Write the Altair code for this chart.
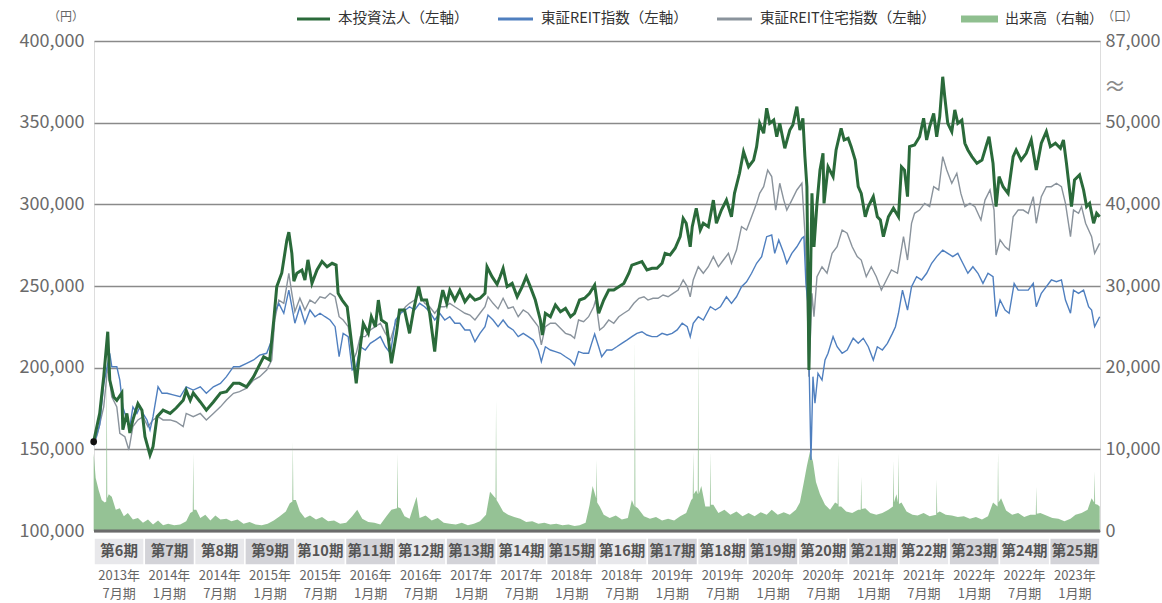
import altair as alt
import pandas as pd

# ---------------- data ----------------
# time as decimal year
green_t = [2013.08,2013.14,2013.18,2013.22,2013.24,2013.28,2013.31,2013.36,2013.37,2013.41,2013.44,2013.47,2013.52,2013.56,2013.59,2013.64,2013.67,2013.71,2013.77,2013.84,2013.90,2013.97,2014.00,2014.04,2014.07,2014.14,2014.20,2014.27,2014.34,2014.40,2014.47,2014.53,2014.60,2014.67,2014.72,2014.77,2014.83,2014.87,2014.90,2014.95,2015.00,2015.02,2015.05,2015.07,2015.10,2015.15,2015.18,2015.21,2015.25,2015.30,2015.35,2015.40,2015.45,2015.49,2015.51,2015.55,2015.60,2015.64,2015.69,2015.73,2015.76,2015.81,2015.84,2015.88,2015.91,2015.94,2015.99,2016.04,2016.09,2016.12,2016.17,2016.22,2016.26,2016.31,2016.34,2016.39,2016.42,2016.47,2016.51,2016.55,2016.59,2016.62,2016.67,2016.72,2016.77,2016.82,2016.87,2016.92,2016.97,2016.99,2017.04,2017.09,2017.12,2017.15,2017.19,2017.24,2017.29,2017.34,2017.38,2017.42,2017.47,2017.52,2017.54,2017.57,2017.62,2017.67,2017.72,2017.77,2017.82,2017.86,2017.91,2017.96,2018.01,2018.06,2018.10,2018.15,2018.20,2018.25,2018.30,2018.35,2018.40,2018.43,2018.48,2018.53,2018.58,2018.63,2018.68,2018.73,2018.76,2018.81,2018.86,2018.91,2018.94,2018.97,2019.01,2019.03,2019.07,2019.11,2019.14,2019.19,2019.24,2019.27,2019.32,2019.37,2019.42,2019.45,2019.50,2019.54,2019.59,2019.64,2019.67,2019.70,2019.74,2019.77,2019.80,2019.84,2019.87,2019.90,2019.95,2020.00,2020.03,2020.07,2020.10,2020.13,2020.15,2020.17,2020.19,2020.22,2020.24,2020.27,2020.30,2020.33,2020.34,2020.38,2020.43,2020.46,2020.51,2020.54,2020.58,2020.61,2020.65,2020.68,2020.71,2020.75,2020.78,2020.83,2020.87,2020.90,2020.93,2020.98,2021.03,2021.08,2021.11,2021.14,2021.17,2021.19,2021.24,2021.29,2021.33,2021.36,2021.39,2021.43,2021.46,2021.49,2021.52,2021.54,2021.57,2021.61,2021.64,2021.67,2021.71,2021.74,2021.77,2021.81,2021.86,2021.91,2021.96,2021.98,2022.02,2022.05,2022.08,2022.12,2022.17,2022.22,2022.25,2022.30,2022.35,2022.40,2022.45,2022.50,2022.55,2022.59,2022.64,2022.69,2022.72,2022.75,2022.80,2022.83,2022.88,2022.92,2022.95,2022.98,2023.02,2023.05,2023.08]
green_v = [154700,172000,194500,222000,192400,182000,180000,184500,162000,172000,160000,168000,178000,174000,157700,146500,151600,170000,174000,172000,175300,180000,186000,180000,184500,179000,174000,179000,184500,185300,190400,190400,188300,194500,200600,206700,204700,229000,249600,258000,278000,283000,270000,253000,257800,259800,253700,266000,251600,259800,265000,261800,263900,262800,245500,241400,237300,217000,190400,212800,227000,221000,231200,225000,241400,229200,227000,202700,221000,235300,235300,221000,235300,249600,241400,241400,233300,209800,235300,247500,239400,247500,241400,247500,240400,244500,241400,242500,245500,261800,255700,251000,255700,260800,249600,251600,243400,249600,255700,249600,241400,229200,220000,233300,231200,238400,234300,236300,231200,233300,241400,242500,245500,250600,233300,241400,247500,247500,249600,251600,257800,262800,263900,264900,259800,260800,260800,263900,270000,269000,273100,280200,291400,288400,274000,286300,297600,284300,288400,286300,302600,288400,296500,302600,292400,306700,319000,332200,323000,327100,335300,349600,343500,358800,349600,351600,341400,349600,334300,345500,348600,359800,345500,352700,329200,310800,198600,306700,274000,300600,321000,331200,300600,323000,317000,333300,346500,339400,340400,335300,327100,310800,306700,292400,298600,304700,292400,290400,280200,292400,297600,292400,323000,321000,304700,335300,336300,341400,352700,339400,347500,355700,341400,353700,378100,365900,349600,344500,357800,349600,351600,337400,333300,329200,325100,327100,337400,341400,325100,298600,317000,310800,306700,329200,333300,327100,331200,339400,321000,337400,344500,335300,337400,334300,339400,325100,298600,314900,318000,308800,298600,300600,288400,294500,292400]

reit_t = [2013.08,2013.14,2013.18,2013.24,2013.26,2013.31,2013.34,2013.37,2013.41,2013.44,2013.47,2013.51,2013.54,2013.57,2013.61,2013.64,2013.67,2013.72,2013.76,2013.81,2013.87,2013.94,2014.00,2014.07,2014.14,2014.20,2014.27,2014.34,2014.40,2014.47,2014.53,2014.60,2014.67,2014.73,2014.80,2014.85,2014.88,2014.92,2014.97,2015.02,2015.05,2015.08,2015.13,2015.18,2015.23,2015.28,2015.33,2015.38,2015.43,2015.48,2015.52,2015.56,2015.61,2015.65,2015.69,2015.73,2015.78,2015.83,2015.88,2015.93,2015.98,2016.03,2016.08,2016.13,2016.18,2016.22,2016.27,2016.32,2016.37,2016.42,2016.47,2016.52,2016.57,2016.62,2016.67,2016.72,2016.77,2016.82,2016.87,2016.92,2016.97,2017.00,2017.05,2017.10,2017.15,2017.20,2017.25,2017.30,2017.35,2017.40,2017.45,2017.50,2017.53,2017.57,2017.62,2017.67,2017.72,2017.77,2017.82,2017.86,2017.90,2017.95,2018.00,2018.03,2018.06,2018.10,2018.13,2018.18,2018.23,2018.28,2018.33,2018.38,2018.43,2018.48,2018.53,2018.58,2018.63,2018.68,2018.73,2018.78,2018.83,2018.88,2018.93,2018.98,2019.01,2019.04,2019.09,2019.14,2019.21,2019.26,2019.31,2019.37,2019.42,2019.47,2019.52,2019.57,2019.62,2019.67,2019.72,2019.77,2019.82,2019.85,2019.89,2019.94,2019.97,2020.02,2020.07,2020.12,2020.14,2020.16,2020.18,2020.21,2020.23,2020.25,2020.28,2020.32,2020.35,2020.38,2020.43,2020.47,2020.52,2020.57,2020.63,2020.68,2020.73,2020.78,2020.83,2020.87,2020.92,2020.97,2021.02,2021.05,2021.08,2021.12,2021.17,2021.21,2021.26,2021.31,2021.36,2021.41,2021.46,2021.52,2021.57,2021.62,2021.67,2021.72,2021.77,2021.82,2021.87,2021.92,2021.97,2022.02,2022.05,2022.09,2022.14,2022.18,2022.23,2022.27,2022.32,2022.37,2022.42,2022.45,2022.50,2022.55,2022.60,2022.65,2022.70,2022.74,2022.79,2022.82,2022.87,2022.92,2022.97,2023.00,2023.03,2023.08]
reit_v = [152600,165000,190000,208800,200600,200600,192400,176000,168000,163900,176000,172000,176000,172000,168000,161800,170000,188300,184300,184300,183300,182200,188300,186300,188300,184300,188300,190400,194500,200600,200600,202700,204700,207700,208800,216900,233300,239400,233300,247500,237300,227200,237300,227200,235300,231200,233300,231200,229200,225100,206700,221000,219000,198600,200600,212800,210800,214900,216900,219000,212800,208800,229200,233300,235300,237300,235300,239400,237300,234300,229200,233300,229200,231200,227200,227200,223100,223100,215900,221000,225100,232200,229200,225100,229200,225100,223100,219000,221000,219000,216900,210800,203700,212800,210800,209800,208800,206700,204700,201600,209800,208800,208800,214900,220600,212800,206700,210800,210800,212800,214900,216900,219000,221000,222000,220000,219000,219000,221000,220000,221000,223100,227200,225100,219000,227200,231200,229200,237300,235300,237300,243400,239400,243400,249600,252600,257800,263900,268000,280200,281200,270000,278200,270000,263900,270000,274000,279200,280200,251600,239400,143500,194500,178200,196500,192400,204700,208800,219000,212800,208800,210800,218000,214900,218000,212800,204700,212800,210800,214900,221000,225100,233300,247500,235300,249600,255700,253700,257800,263900,268000,272000,270000,268000,270000,263900,257800,261800,257800,251600,257800,255700,231200,241400,235300,233300,251600,247500,247500,247500,251600,237300,245500,249600,253700,252600,253700,241400,233300,247500,245500,247500,237300,235300,225100,231200]

resi_t = [2013.08,2013.12,2013.18,2013.22,2013.26,2013.31,2013.34,2013.39,2013.43,2013.47,2013.52,2013.57,2013.62,2013.67,2013.72,2013.77,2013.84,2013.90,2013.97,2014.00,2014.07,2014.14,2014.20,2014.27,2014.34,2014.40,2014.47,2014.53,2014.60,2014.67,2014.73,2014.80,2014.85,2014.88,2014.92,2014.97,2015.02,2015.05,2015.08,2015.13,2015.18,2015.23,2015.28,2015.33,2015.38,2015.43,2015.48,2015.52,2015.56,2015.61,2015.66,2015.69,2015.73,2015.78,2015.83,2015.88,2015.93,2015.98,2016.03,2016.08,2016.13,2016.18,2016.22,2016.27,2016.32,2016.37,2016.42,2016.47,2016.52,2016.57,2016.62,2016.67,2016.72,2016.77,2016.82,2016.87,2016.92,2016.97,2017.00,2017.05,2017.10,2017.15,2017.20,2017.25,2017.30,2017.35,2017.40,2017.45,2017.50,2017.53,2017.57,2017.62,2017.67,2017.72,2017.77,2017.82,2017.86,2017.90,2017.95,2018.00,2018.05,2018.07,2018.11,2018.15,2018.20,2018.25,2018.30,2018.35,2018.40,2018.45,2018.50,2018.55,2018.59,2018.64,2018.69,2018.74,2018.79,2018.84,2018.89,2018.94,2018.98,2019.01,2019.04,2019.09,2019.14,2019.19,2019.24,2019.29,2019.34,2019.39,2019.42,2019.47,2019.52,2019.57,2019.62,2019.67,2019.70,2019.74,2019.78,2019.82,2019.86,2019.90,2019.94,2019.97,2020.02,2020.07,2020.12,2020.15,2020.17,2020.19,2020.22,2020.24,2020.27,2020.32,2020.37,2020.42,2020.47,2020.52,2020.57,2020.62,2020.67,2020.71,2020.76,2020.81,2020.86,2020.91,2020.96,2021.01,2021.07,2021.13,2021.17,2021.21,2021.24,2021.29,2021.34,2021.39,2021.43,2021.48,2021.52,2021.56,2021.61,2021.66,2021.70,2021.74,2021.79,2021.84,2021.90,2021.94,2021.99,2022.03,2022.05,2022.09,2022.14,2022.18,2022.22,2022.27,2022.32,2022.37,2022.42,2022.45,2022.50,2022.55,2022.60,2022.65,2022.70,2022.74,2022.79,2022.82,2022.87,2022.90,2022.94,2022.97,2023.00,2023.03,2023.08]
resi_v = [152000,160000,176000,200600,182200,176000,159800,157700,149600,163900,168000,170000,163900,168000,170000,168000,168000,166900,163900,172000,170000,172000,168000,172000,176000,180200,184300,185300,187400,192400,194500,198600,204700,229200,241400,239400,257800,245500,234300,242500,235300,241400,239400,243400,242500,245500,243400,231200,229200,225100,204700,208800,219000,219000,223100,225100,227200,221000,216900,227200,233300,237300,239400,241400,245500,239400,237300,233300,237300,237300,239400,237300,235300,233300,232200,229200,233300,237300,243400,239400,236000,242500,236300,237300,231200,235300,233300,229200,225100,213900,225100,227200,227200,224100,221000,220000,218000,229200,228100,231200,237300,241400,223100,225100,229200,227200,231200,233300,235300,239400,242500,243400,241400,242500,242500,244500,243400,245500,247500,253700,249600,243400,253700,261800,257800,261800,268000,261800,265900,270000,263900,272000,286300,284300,292400,300600,306700,310800,321000,317000,296500,312900,302600,296500,302600,308800,312900,282300,249600,194500,245500,231200,255700,261800,257800,270000,274000,284300,282300,274000,268000,265900,255700,261800,255700,247500,253700,259800,257800,280200,265900,288400,294500,296500,300600,298600,310800,308800,329200,321000,312900,319000,306700,298600,300600,298600,290400,302600,308800,296500,269000,278200,274000,272000,292400,296500,296500,294500,304700,288400,304700,310800,310800,312900,310800,300600,280200,296500,294500,298600,288400,284300,280200,270000,276100]

# trading volume (units), (decimal year, volume)
vol_points = [
    (2013.08,9500),(2013.10,6500),(2013.13,5000),(2013.16,3800),(2013.19,3500),(2013.205,3600),(2013.21,22000),(2013.215,4000),
    (2013.23,4500),(2013.26,4200),(2013.30,2600),(2013.34,2800),(2013.38,1800),(2013.42,2200),(2013.47,1400),(2013.52,1600),
    (2013.57,1000),(2013.62,1400),(2013.67,800),(2013.72,1300),(2013.77,700),(2013.82,900),(2013.88,700),(2013.94,800),
    (2014.00,1200),(2014.04,2200),(2014.065,2400),(2014.07,9500),(2014.075,2600),(2014.10,2600),(2014.14,1600),(2014.19,2000),
    (2014.24,1300),(2014.29,1900),(2014.34,1400),(2014.40,1500),(2014.45,1200),(2014.51,1400),(2014.57,900),(2014.63,1100),
    (2014.69,800),(2014.75,700),(2014.81,900),(2014.87,1300),(2014.93,1800),(2014.99,2400),(2015.03,3400),(2015.055,3600),
    (2015.06,10900),(2015.065,3800),(2015.09,3800),(2015.13,2400),(2015.18,1600),(2015.23,1900),(2015.29,1400),(2015.35,1700),
    (2015.41,1200),(2015.47,1300),(2015.53,900),(2015.59,1000),(2015.65,1800),(2015.70,2600),(2015.75,1500),(2015.81,1100),
    (2015.87,1000),(2015.93,800),(2015.99,1800),(2016.04,2600),(2016.095,2800),(2016.10,9500),(2016.105,2900),(2016.13,2800),
    (2016.17,1800),(2016.22,1500),(2016.29,4200),(2016.32,1600),(2016.38,1900),(2016.44,1300),(2016.50,1600),(2016.56,1000),
    (2016.62,900),(2016.68,800),(2016.74,1000),(2016.80,700),(2016.86,900),(2016.92,1200),(2016.98,2000),(2017.02,4800),
    (2017.075,4000),(2017.08,16000),(2017.085,3800),(2017.10,3500),(2017.15,2400),(2017.20,2000),(2017.26,1700),(2017.32,1500),
    (2017.38,1100),(2017.44,1200),(2017.50,900),(2017.56,1000),(2017.62,800),(2017.68,900),(2017.74,700),(2017.80,800),
    (2017.86,600),(2017.91,700),(2017.97,1000),(2018.01,3200),(2018.04,5500),(2018.075,4000),(2018.08,8700),(2018.085,3500),
    (2018.11,3000),(2018.15,2000),(2018.21,1600),(2018.27,1900),(2018.33,1400),(2018.39,1600),(2018.43,3800),(2018.455,3000),
    (2018.46,23400),(2018.465,3000),(2018.49,2800),(2018.55,1800),(2018.61,1500),(2018.67,1700),(2018.73,1300),(2018.79,1500),
    (2018.85,1300),(2018.91,1800),(2018.97,2200),(2019.02,3800),(2019.035,4000),(2019.04,9700),(2019.045,4500),(2019.07,5000),
    (2019.085,4500),(2019.09,22800),(2019.095,4500),(2019.12,5500),(2019.16,3000),(2019.205,3000),(2019.21,9700),(2019.215,3200),
    (2019.24,3200),(2019.29,2200),(2019.35,2600),(2019.41,2000),(2019.47,2400),(2019.53,1800),(2019.59,2200),(2019.65,1800),
    (2019.71,2300),(2019.77,2000),(2019.82,2600),(2019.88,2000),(2019.94,2300),(2020.00,2000),(2020.06,2600),(2020.10,3500),
    (2020.14,6000),(2020.17,8000),(2020.20,9700),(2020.23,8500),(2020.26,6000),(2020.30,4500),(2020.35,3200),(2020.40,2600),
    (2020.45,3500),(2020.475,3300),(2020.48,9500),(2020.485,3000),(2020.51,3000),(2020.56,2400),(2020.62,2200),(2020.68,2600),
    (2020.705,2600),(2020.71,6600),(2020.715,2700),(2020.75,2800),(2020.80,2200),(2020.86,2000),(2020.92,2200),(2020.98,2600),
    (2021.025,3000),(2021.03,8600),(2021.035,3500),(2021.06,4500),(2021.075,3500),(2021.08,9500),(2021.085,3300),(2021.11,3500),
    (2021.16,2400),(2021.22,2000),(2021.27,1900),(2021.33,2200),(2021.39,1800),(2021.455,2000),(2021.46,6300),(2021.465,2200),
    (2021.49,2400),(2021.55,2000),(2021.61,1900),(2021.67,1700),(2021.73,1800),(2021.79,1500),(2021.85,1700),(2021.91,1400),
    (2021.97,1800),(2022.02,3500),(2022.065,3000),(2022.07,9700),(2022.075,3500),(2022.10,4000),(2022.15,2500),(2022.21,2000),
    (2022.27,2200),(2022.33,1700),(2022.39,2000),(2022.445,2000),(2022.45,5400),(2022.455,2100),(2022.49,2200),(2022.55,1900),
    (2022.61,1600),(2022.67,1500),(2022.73,1200),(2022.79,1500),(2022.84,2000),(2022.90,2200),(2022.96,2600),(2023.00,4000),
    (2023.025,3500),(2023.03,7300),(2023.035,3300),(2023.06,3200),(2023.08,3000),
]

period_names = ["第6期","第7期","第8期","第9期","第10期","第11期","第12期","第13期","第14期","第15期",
                "第16期","第17期","第18期","第19期","第20期","第21期","第22期","第23期","第24期","第25期"]
period_year = ["2013年","2014年","2014年","2015年","2015年","2016年","2016年","2017年","2017年","2018年",
               "2018年","2019年","2019年","2020年","2020年","2021年","2021年","2022年","2022年","2023年"]
period_month = ["7月期","1月期","7月期","1月期","7月期","1月期","7月期","1月期","7月期","1月期",
                "7月期","1月期","7月期","1月期","7月期","1月期","7月期","1月期","7月期","1月期"]

left_ticks = [100000, 150000, 200000, 250000, 300000, 350000, 400000]
right_ticks = [0, 10000, 20000, 30000, 40000, 50000, 60000]

# ---------------- chart ----------------
FONT = "Noto Sans CJK JP"
W, H = 1006, 490
X0, X1 = 2013 + 1 / 12, 2023 + 1 / 12
xs = alt.Scale(domain=[X0, X1], nice=False, zero=False)
ysL = alt.Scale(domain=[100000, 400000], nice=False, zero=False)
ysR = alt.Scale(domain=[0, 60000], nice=False, zero=False)

axL = alt.Axis(orient="left", values=left_ticks, labelExpr="format(datum.value, ',')", grid=True,
               gridColor="#8a8a8a", gridWidth=1.3, domain=False, ticks=False, labelPadding=10,
               labelFontSize=18, labelColor="#6a6a6a", labelFont=FONT, title=None)
axR = alt.Axis(orient="right", values=right_ticks,
               labelExpr="datum.value == 60000 ? '87,000' : format(datum.value, ',')",
               grid=False, domain=False, ticks=False, labelPadding=5, labelFontSize=18,
               labelColor="#6a6a6a", labelFont=FONT, title=None)

green_df = pd.DataFrame({"t": green_t, "v": green_v})
reit_df = pd.DataFrame({"t": reit_t, "v": reit_v})
resi_df = pd.DataFrame({"t": resi_t, "v": resi_v})
vol_df = pd.DataFrame(vol_points, columns=["t", "vol"])

def xenc(field="t"):
    return alt.X(f"{field}:Q", scale=xs, axis=None)

vol_layer = alt.Chart(vol_df).mark_area(color="#8fbf8f", opacity=0.95).encode(
    x=xenc(), y=alt.Y("vol:Q", scale=ysR, axis=axR))

resi_line = alt.Chart(resi_df).mark_line(color="#8a939c", strokeWidth=1.4).encode(
    x=xenc(), y=alt.Y("v:Q", scale=ysL, axis=axL))
reit_line = alt.Chart(reit_df).mark_line(color="#4f7fbf", strokeWidth=1.4).encode(
    x=xenc(), y=alt.Y("v:Q", scale=ysL, axis=axL))
green_line = alt.Chart(green_df).mark_line(color="#2a6a3a", strokeWidth=3).encode(
    x=xenc(), y=alt.Y("v:Q", scale=ysL, axis=axL))
start_dot = alt.Chart(green_df.head(1)).mark_circle(color="#111111", size=45, opacity=1).encode(
    x=xenc(), y=alt.Y("v:Q", scale=ysL, axis=axL))

left_group = alt.layer(resi_line, reit_line, green_line, start_dot)

one = pd.DataFrame({"a": [0]})
base_rule = alt.Chart(one).mark_rule(color="#6b6b6b", strokeWidth=3).encode(
    x=alt.value(0), x2=alt.value(W), y=alt.value(H))

periods = pd.DataFrame({
    "name": period_names,
    "yr": period_year,
    "mo": period_month,
    "i": list(range(len(period_names))),
})
periods["start"] = X0 + periods["i"] * 0.5
periods["end"] = periods["start"] + 0.5
periods["mid"] = periods["start"] + 0.25
periods["shade"] = ["a" if i % 2 == 0 else "b" for i in periods["i"]]

p_rect = alt.Chart(periods).mark_rect(stroke="white", strokeWidth=1.5).encode(
    x=alt.X("start:Q", scale=xs, axis=None), x2="end:Q",
    y=alt.value(H + 7), y2=alt.value(H + 34),
    color=alt.Color("shade:N", scale=alt.Scale(domain=["a", "b"], range=["#e8e8eb", "#d3d3d8"]), legend=None))
p_name = alt.Chart(periods).mark_text(font=FONT, fontSize=14.5, fontWeight="bold", color="#555555").encode(
    x=alt.X("mid:Q", scale=xs, axis=None), y=alt.value(H + 21), text="name:N")
p_yr = alt.Chart(periods).mark_text(font=FONT, fontSize=13, color="#666666").encode(
    x=alt.X("mid:Q", scale=xs, axis=None), y=alt.value(H + 45), text="yr:N")
p_mo = alt.Chart(periods).mark_text(font=FONT, fontSize=13, color="#666666").encode(
    x=alt.X("mid:Q", scale=xs, axis=None), y=alt.value(H + 63), text="mo:N")

# legend and unit labels (layout only)
LY = -22
def txt(s, x, y, size=14.5, color="#333333", align="left"):
    return alt.Chart(one).mark_text(text=s, font=FONT, fontSize=size, color=color, align=align,
                                    baseline="middle").encode(x=alt.value(x), y=alt.value(y))

def seg(x1, x2, color, w):
    return alt.Chart(one).mark_rule(color=color, strokeWidth=w).encode(
        x=alt.value(x1), x2=alt.value(x2), y=alt.value(LY))

legend = alt.layer(
    seg(203, 236, "#2a6a3a", 3), txt("本投資法人（左軸）", 244, LY),
    seg(404, 439, "#4f7fbf", 3), txt("東証REIT指数（左軸）", 447, LY),
    seg(623, 658, "#8a939c", 3), txt("東証REIT住宅指数（左軸）", 666, LY),
    seg(867, 904, "#8fbf8f", 7), txt("出来高（右軸）", 911, LY, size=14),
    txt("（口）", 1008, LY - 2, size=12, color="#666666"),
    txt("（円）", -10, LY - 2, size=12, color="#666666", align="right"),
    txt("≈", 1021, 46, size=22, color="#8a8a8a", align="center"),
)

chart = alt.layer(
    vol_layer, left_group, base_rule, p_rect, p_name, p_yr, p_mo, legend
).resolve_scale(y="independent").properties(
    width=W, height=H,
    autosize=alt.AutoSizeParams(type="none"),
    padding={"left": 94, "top": 41, "right": 62, "bottom": 72},
).configure_view(stroke=None).configure(font=FONT)

chart.save("out.html", embed_options={"renderer": "svg", "actions": False})
